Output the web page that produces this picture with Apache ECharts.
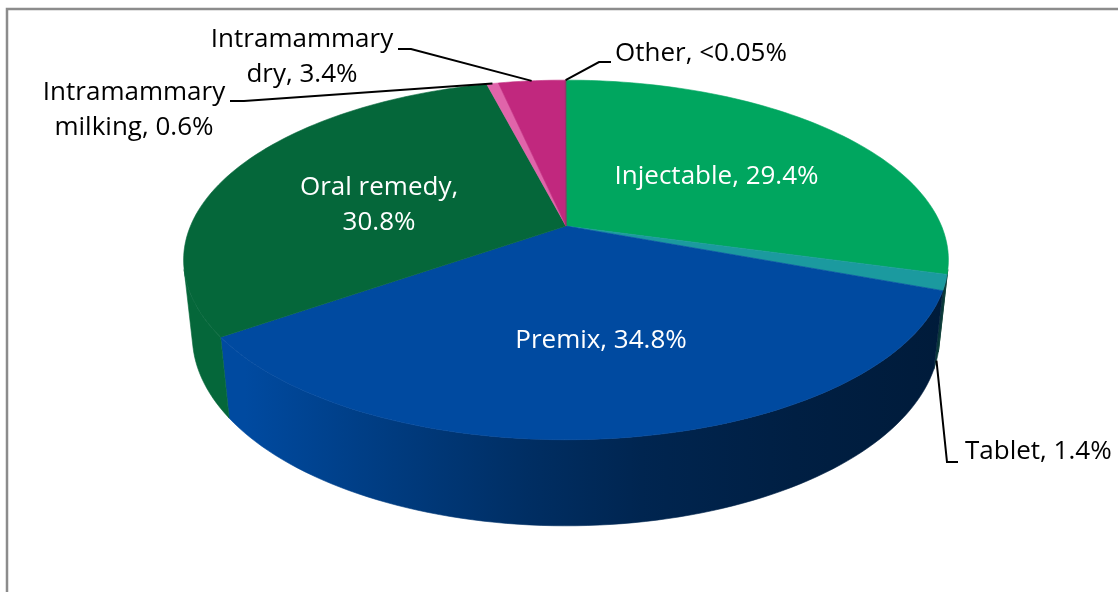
<!DOCTYPE html>
<html>
<head>
<meta charset="utf-8">
<style>
  html, body { margin: 0; padding: 0; background: #fff; }
  #chart { width: 1118px; height: 592px; }
</style>
<script src="https://cdn.jsdelivr.net/npm/echarts@6/dist/echarts.min.js"></script>
</head>
<body>
<div id="chart"></div>
<script>
var categories = ['Injectable', 'Tablet', 'Premix', 'Oral remedy', 'Intramammary milking', 'Intramammary dry', 'Other'];
var shares = [29.4, 1.4, 34.8, 30.8, 0.6, 3.4, 0.04];
var shareLabels = ['29.4%', '1.4%', '34.8%', '30.8%', '0.6%', '3.4%', '<0.05%'];

var sliceColors = ['#00a65f', '#1b9a9f', '#004aa0', '#05673a', '#e064aa', '#c1287e', '#8e3464'];

// where each label sits: inside the slice, or outside with a leader
var labelPlace = [
  { inside: true, dx: -4, dy: 5 },
  { x: 965, y: 452, align: 'left', hook: [[958, 462], [947, 462]] },
  { inside: true, dx: 6, dy: 9 },
  { inside: true, dx: 0, dy: 11, wrap: 'value' },
  { x: 134, y: 110, align: 'center', wrap: 'name', hook: [[230, 101], [244, 101]] },
  { x: 302, y: 57, align: 'center', wrap: 'name', hook: [[398, 49], [411, 49]] },
  { x: 615, y: 54, align: 'left', hook: [[611, 62], [599, 62]] }
];

// simple perspective camera for the tilted disc
var cam = { cx: 566, cy: 226, focal: 1765, dist: 4.70, tilt: 27.5, depth: 0.23 };
var sinT = Math.sin(cam.tilt * Math.PI / 180);
var cosT = Math.cos(cam.tilt * Math.PI / 180);

var total = shares.reduce(function (a, b) { return a + b; }, 0);
var starts = [];
shares.reduce(function (acc, v, i) { starts[i] = acc; return acc + v; }, 0);

function project(theta, r, y) {
  var a = theta * Math.PI / 180;
  var X = r * Math.sin(a), Z = -r * Math.cos(a);
  var w = cam.dist - Z * cosT - y * sinT;
  return [cam.cx + cam.focal * X / w, cam.cy + cam.focal * (Z * sinT - y * cosT) / w];
}

function arc(a0, a1, r, y) {
  var n = Math.max(2, Math.ceil(Math.abs(a1 - a0) / 1.5));
  var pts = [];
  for (var k = 0; k <= n; k++) pts.push(project(a0 + (a1 - a0) * k / n, r, y));
  return pts;
}

// wall is seen where the cylinder faces the camera
var zTan = 1 / (cam.dist * cosT);
var wallFrom = Math.acos(-zTan) * 180 / Math.PI;
var wallTo = 360 - wallFrom;

var shadeStops = [[0, 1.0], [0.08, 1.0], [0.25, 0.82], [0.45, 0.62], [0.6, 0.5], [0.8, 0.42], [1, 0.36]];

function scale(hex, f) {
  var n = parseInt(hex.slice(1), 16);
  var r = Math.round(((n >> 16) & 255) * f), g = Math.round(((n >> 8) & 255) * f), b = Math.round((n & 255) * f);
  return 'rgb(' + r + ',' + g + ',' + b + ')';
}

function wallFill(color) {
  var xl = project(wallTo, 1, 0)[0], xr = project(wallFrom, 1, 0)[0];
  return new echarts.graphic.LinearGradient(xl, 0, xr, 0, shadeStops.map(function (s) {
    return { offset: s[0], color: scale(color, s[1]) };
  }), true);
}

function labelText(i) {
  var t = categories[i] + ', ' + shareLabels[i];
  var p = labelPlace[i];
  if (p.wrap === 'name') t = t.replace(' ', '\n');
  if (p.wrap === 'value') t = t.replace(', ', ',\n');
  return t;
}

var FONT = '26px "Open Sans", sans-serif';

function renderSlice(params, api) {
  var i = params.dataIndex;
  var a0 = starts[i] / total * 360;
  var a1 = (starts[i] + api.value(0)) / total * 360;
  var color = sliceColors[i];
  var kids = [];

  var w0 = Math.max(a0, wallFrom), w1 = Math.min(a1, wallTo);
  if (w1 > w0) {
    var pts = arc(w0, w1, 1, 0).concat(arc(w1, w0, 1, -cam.depth));
    kids.push({
      type: 'polygon', z2: 1,
      shape: { points: pts },
      style: { fill: wallFill(color), stroke: wallFill(color), lineWidth: 0.6 }
    });
  }

  var top = [project(0, 0, 0)].concat(arc(a0, a1, 1, 0));
  kids.push({
    type: 'polygon', z2: 2,
    shape: { points: top },
    style: { fill: color, stroke: color, lineWidth: 0.6 }
  });

  var mid = (a0 + a1) / 2;
  var p = labelPlace[i];
  if (p.inside) {
    var c = project(mid, 0.55, 0);
    kids.push({
      type: 'text', z2: 10,
      style: {
        text: labelText(i), x: c[0] + p.dx, y: c[1] + p.dy,
        align: 'center', verticalAlign: 'middle',
        font: FONT, lineHeight: 35, fill: '#ffffff'
      }
    });
  } else {
    var Z = -Math.cos(mid * Math.PI / 180);
    var rim = Z > zTan ? project(mid, 1, -cam.depth) : project(mid, 1, 0);
    kids.push({
      type: 'polyline', z2: 9,
      shape: { points: [rim, p.hook[1], p.hook[0]] },
      style: { stroke: '#000', lineWidth: 2, fill: null }
    });
    kids.push({
      type: 'text', z2: 10,
      style: {
        text: labelText(i), x: p.x, y: p.y,
        align: p.align, verticalAlign: 'middle',
        font: FONT, lineHeight: 35, fill: '#000000'
      }
    });
  }
  return { type: 'group', children: kids };
}

var chart = echarts.init(document.getElementById('chart'), null, { renderer: 'canvas' });
chart.setOption({
  animation: false,
  graphic: [{
    type: 'rect',
    shape: { x: 7, y: 9, width: 1300, height: 800 },
    style: { fill: null, stroke: '#8c8c8c', lineWidth: 2.5 },
    z: 0
  }],
  series: [{
    type: 'custom',
    coordinateSystem: 'none',
    renderItem: renderSlice,
    data: shares.map(function (v, i) { return { name: categories[i], value: [v] }; })
  }]
});
window.addEventListener('resize', function () { chart.resize(); });
</script>
</body>
</html>
